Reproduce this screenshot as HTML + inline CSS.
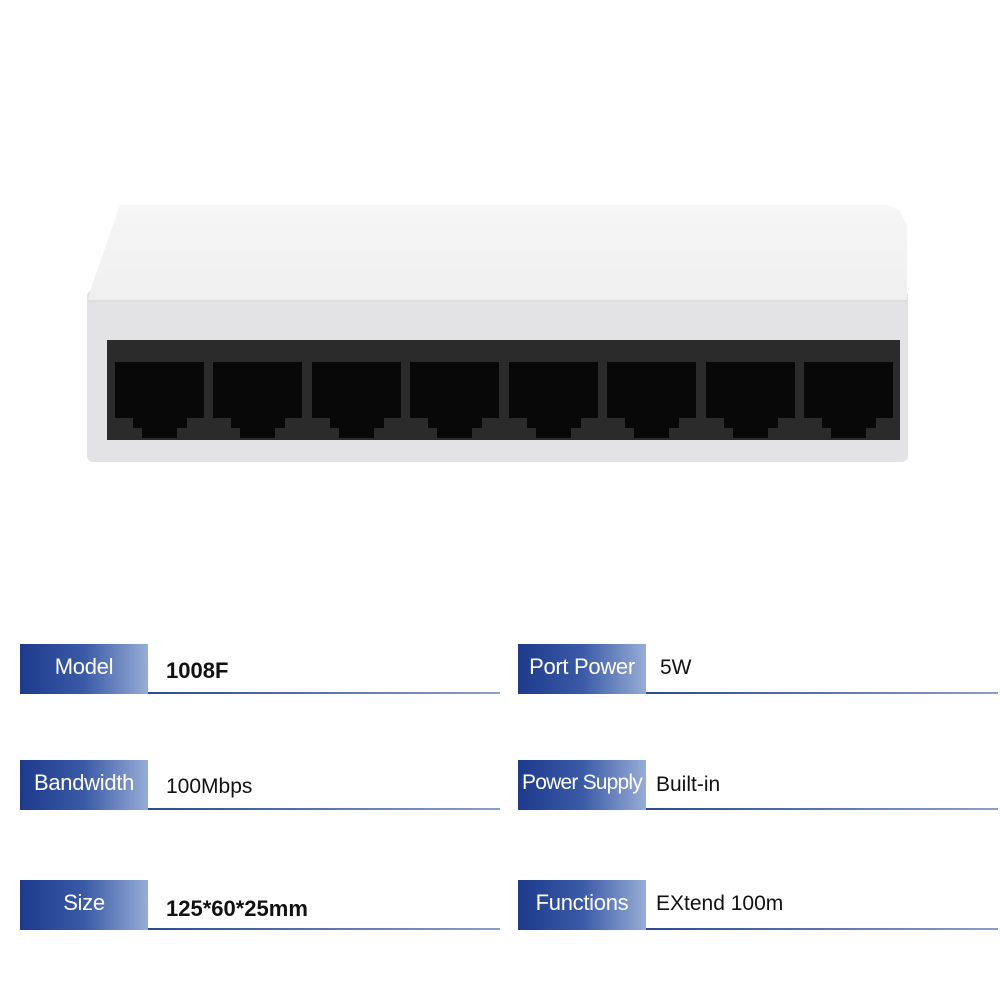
<!DOCTYPE html>
<html><head><style>
body{margin:0;width:1000px;height:1000px;background:#fff;position:relative;overflow:hidden;font-family:"Liberation Sans",Arial,sans-serif}
.a{position:absolute}
.body{left:87px;top:290px;width:821px;height:172px;background:#e3e3e5;border-radius:6px}
.top{left:88px;top:205px;width:819px;height:96px;background:linear-gradient(#f6f6f7,#efeff0);clip-path:polygon(32px 0,800px 0,812px 6px,819px 20px,819px 96px,0 96px,2px 86px);}
.panel{left:107px;top:340px;width:793px;height:100px;background:#2b2b2b}
.port{position:absolute;top:22px;width:89px;height:76px;background:#080808}
.port i{position:absolute;background:#2b2b2b}
.lab{position:absolute;width:128px;height:50px;background:linear-gradient(90deg,#1d3a8c,#3a5aa6 50%,#97acd6);color:#fff;font-size:22px;text-align:center;line-height:46px;letter-spacing:-0.3px}
.line{position:absolute;height:2px;background:linear-gradient(90deg,#2b4a92,#8c9fc7)}
.val{position:absolute;font-size:21px;color:#111}
</style></head><body>
<div class="a body"></div>
<div class="a top"></div>
<div class="a" style="left:88px;top:300px;width:819px;height:2px;background:#dcdcde"></div>
<div class="a panel">
<div class="port" style="left:8px"><i style="left:0;top:56px;width:18px;height:20px"></i><i style="left:18px;top:66px;width:9px;height:10px"></i><i style="left:62px;top:66px;width:10px;height:10px"></i><i style="left:72px;top:56px;width:17px;height:20px"></i></div>
<div class="port" style="left:106px"><i style="left:0;top:56px;width:18px;height:20px"></i><i style="left:18px;top:66px;width:9px;height:10px"></i><i style="left:62px;top:66px;width:10px;height:10px"></i><i style="left:72px;top:56px;width:17px;height:20px"></i></div>
<div class="port" style="left:205px"><i style="left:0;top:56px;width:18px;height:20px"></i><i style="left:18px;top:66px;width:9px;height:10px"></i><i style="left:62px;top:66px;width:10px;height:10px"></i><i style="left:72px;top:56px;width:17px;height:20px"></i></div>
<div class="port" style="left:303px"><i style="left:0;top:56px;width:18px;height:20px"></i><i style="left:18px;top:66px;width:9px;height:10px"></i><i style="left:62px;top:66px;width:10px;height:10px"></i><i style="left:72px;top:56px;width:17px;height:20px"></i></div>
<div class="port" style="left:402px"><i style="left:0;top:56px;width:18px;height:20px"></i><i style="left:18px;top:66px;width:9px;height:10px"></i><i style="left:62px;top:66px;width:10px;height:10px"></i><i style="left:72px;top:56px;width:17px;height:20px"></i></div>
<div class="port" style="left:500px"><i style="left:0;top:56px;width:18px;height:20px"></i><i style="left:18px;top:66px;width:9px;height:10px"></i><i style="left:62px;top:66px;width:10px;height:10px"></i><i style="left:72px;top:56px;width:17px;height:20px"></i></div>
<div class="port" style="left:599px"><i style="left:0;top:56px;width:18px;height:20px"></i><i style="left:18px;top:66px;width:9px;height:10px"></i><i style="left:62px;top:66px;width:10px;height:10px"></i><i style="left:72px;top:56px;width:17px;height:20px"></i></div>
<div class="port" style="left:697px"><i style="left:0;top:56px;width:18px;height:20px"></i><i style="left:18px;top:66px;width:9px;height:10px"></i><i style="left:62px;top:66px;width:10px;height:10px"></i><i style="left:72px;top:56px;width:17px;height:20px"></i></div>
</div>

<div class="lab" style="left:20px;top:644px">Model</div><div class="line" style="left:148px;top:692px;width:352px"></div><div class="val" style="left:166px;top:658px;font-weight:bold;font-size:22px">1008F</div>
<div class="lab" style="left:518px;top:644px">Port Power</div><div class="line" style="left:646px;top:692px;width:352px"></div><div class="val" style="left:660px;top:656px">5W</div>
<div class="lab" style="left:20px;top:760px">Bandwidth</div><div class="line" style="left:148px;top:808px;width:352px"></div><div class="val" style="left:166px;top:775px">100Mbps</div>
<div class="lab" style="left:518px;top:760px;font-size:21px;letter-spacing:-0.8px">Power Supply</div><div class="line" style="left:646px;top:808px;width:352px"></div><div class="val" style="left:656px;top:773px">Built-in</div>
<div class="lab" style="left:20px;top:880px">Size</div><div class="line" style="left:148px;top:928px;width:352px"></div><div class="val" style="left:166px;top:896px;font-weight:bold;font-size:22px">125*60*25mm</div>
<div class="lab" style="left:518px;top:880px">Functions</div><div class="line" style="left:646px;top:928px;width:352px"></div><div class="val" style="left:656px;top:892px">EXtend 100m</div>
</body></html>
